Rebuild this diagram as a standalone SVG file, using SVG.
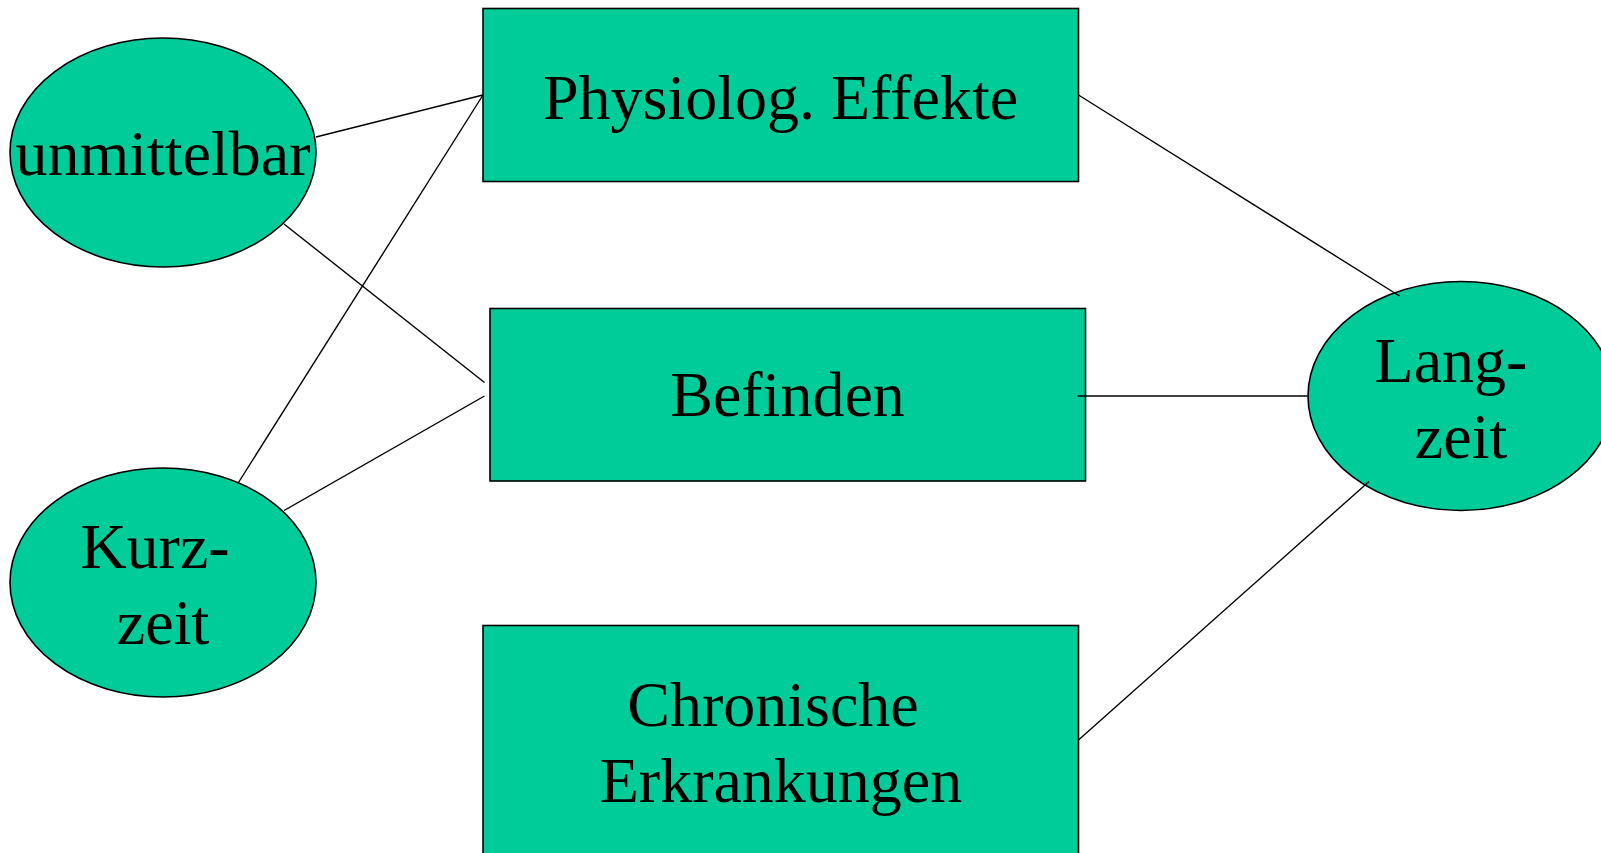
<svg xmlns="http://www.w3.org/2000/svg" width="1601" height="853" viewBox="0 0 1601 853">
<style>
.shape{fill:#00CC99;stroke:#000;stroke-width:1.6}
.lbl{font-family:"Liberation Serif","Times New Roman",serif;font-size:64px;fill:#000;text-anchor:middle}
.conn line{stroke:#000;stroke-width:1.4}
</style>
<rect width="1601" height="853" fill="#fff"/>
<g id="node-unmittelbar">
<ellipse class="shape" cx="163" cy="152.5" rx="153" ry="114.5"/>
<text class="lbl" x="163" y="175">unmittelbar</text>
</g>
<g id="node-kurzzeit">
<ellipse class="shape" cx="163" cy="582.5" rx="153" ry="114.5"/>
<text class="lbl" x="155" y="567.5">Kurz-</text>
<text class="lbl" x="163" y="643.5">zeit</text>
</g>
<g id="node-physiolog">
<rect class="shape" x="483" y="8.5" width="595.5" height="173"/>
<text class="lbl" x="780.5" y="118.5">Physiolog. Effekte</text>
</g>
<g id="node-befinden">
<rect class="shape" x="490" y="308.5" width="595.5" height="172.5"/>
<text class="lbl" x="787.5" y="415.5">Befinden</text>
</g>
<g id="node-chronisch">
<rect class="shape" x="483" y="625.5" width="595.5" height="240"/>
<text class="lbl" x="773" y="725.5">Chronische</text>
<text class="lbl" x="781" y="801.5">Erkrankungen</text>
</g>
<g id="node-langzeit">
<ellipse class="shape" cx="1461" cy="396" rx="153" ry="114.5"/>
<text class="lbl" x="1451" y="381.5">Lang-</text>
<text class="lbl" x="1461" y="458">zeit</text>
</g>
<g id="connectors" class="conn">
<line x1="316" y1="137" x2="483" y2="95"/>
<line x1="483" y1="95" x2="238.5" y2="482.5"/>
<line x1="284" y1="224" x2="484.5" y2="382.5"/>
<line x1="284" y1="510.5" x2="484.5" y2="396"/>
<line x1="1078.5" y1="95" x2="1399.5" y2="296"/>
<line x1="1077.5" y1="396" x2="1307.5" y2="396"/>
<line x1="1078.5" y1="740" x2="1369" y2="481.5"/>
</g>
</svg>
